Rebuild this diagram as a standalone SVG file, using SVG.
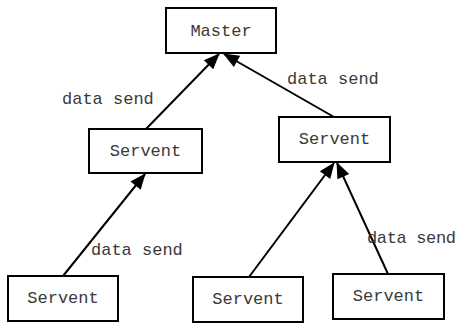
<svg xmlns="http://www.w3.org/2000/svg" width="459" height="325" viewBox="0 0 459 325">
<style>
.box{fill:#fff;stroke:#000;stroke-width:2}
.t{font-family:"Liberation Mono","Courier New",monospace;font-size:17px;fill:#3a3a3a}
.c{stroke:#000;stroke-width:2;fill:none;marker-end:url(#ah)}
</style>
<defs>
<marker id="ah" markerUnits="userSpaceOnUse" markerWidth="17" markerHeight="15" refX="15" refY="6.5" orient="auto" overflow="visible">
<path d="M0,0 L16,6.5 L0,13 z" fill="#000"/>
</marker>
</defs>
<rect width="459" height="325" fill="#fff"/>
<g id="connectors">
<line class="c" x1="146" y1="129" x2="219" y2="54"/>
<line class="c" x1="334" y1="117" x2="224" y2="54"/>
<line class="c" x1="63" y1="276" x2="145" y2="174"/>
<line class="c" x1="249" y1="277" x2="334" y2="163"/>
<line class="c" x1="388" y1="274" x2="337" y2="163"/>
<text class="t" x="62" y="104">data send</text>
<text class="t" x="287" y="84">data send</text>
<text class="t" x="91" y="255">data send</text>
<text class="t" x="367" y="243" textLength="89">data send</text>
</g>
<g id="master">
<rect class="box" x="166" y="8" width="110" height="45"/>
<text class="t" x="221" y="36" text-anchor="middle">Master</text>
</g>
<g id="servent-mid-left">
<rect class="box" x="89" y="129" width="113" height="44"/>
<text class="t" x="145.5" y="156" text-anchor="middle">Servent</text>
</g>
<g id="servent-mid-right">
<rect class="box" x="279" y="117" width="111" height="45"/>
<text class="t" x="334.5" y="144" text-anchor="middle">Servent</text>
</g>
<g id="servent-bottom-left">
<rect class="box" x="8" y="276" width="110" height="45"/>
<text class="t" x="63" y="303" text-anchor="middle">Servent</text>
</g>
<g id="servent-bottom-mid">
<rect class="box" x="193" y="277" width="110" height="45"/>
<text class="t" x="248" y="304" text-anchor="middle">Servent</text>
</g>
<g id="servent-bottom-right">
<rect class="box" x="333" y="274" width="111" height="45"/>
<text class="t" x="388.5" y="301" text-anchor="middle">Servent</text>
</g>
</svg>
